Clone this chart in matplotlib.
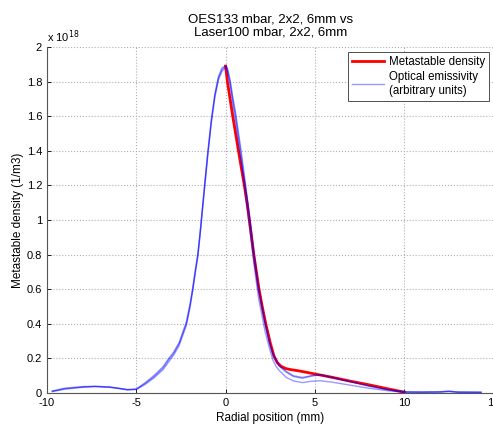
import numpy as np
import matplotlib
matplotlib.use("Agg")
import matplotlib.pyplot as plt
from matplotlib.ticker import FuncFormatter

plt.rcParams['font.family'] = ['Liberation Sans', 'DejaVu Sans']
plt.rcParams['axes.unicode_minus'] = False

title = "OES133 mbar, 2x2, 6mm vs\nLaser100 mbar, 2x2, 6mm"
xlabel = "Radial position (mm)"
ylabel = "Metastable density (1/m3)"
legend_labels = ["Metastable density", "Optical emissivity\n(arbitrary units)"]
x_ticks = [-10, -5, 0, 5, 10, 15]
y_ticks = [0, 0.2, 0.4, 0.6, 0.8, 1.0, 1.2, 1.4, 1.6, 1.8, 2.0]

# Metastable density (units of 1e18 /m3)
red_x = [0, 0.1, 0.25, 0.4, 0.56, 0.72, 0.9, 1.05, 1.2, 1.33, 1.58, 1.87, 2.05,
         2.25, 2.5, 2.72, 2.9, 3.1, 3.35, 3.6, 4.1, 5.0, 6.0, 7.0, 8.0, 9.0, 10.0]
red_y = [1.89, 1.80, 1.70, 1.60, 1.50, 1.40, 1.29, 1.20, 1.10, 1.00, 0.80, 0.60,
         0.50, 0.40, 0.29, 0.21, 0.175, 0.155, 0.142, 0.136, 0.128, 0.11, 0.09,
         0.068, 0.048, 0.026, 0.005]

# Optical emissivity profiles (arbitrary units, scaled)
blue_x = [-9.7, -9.0, -8.0, -7.3, -6.5, -6.0, -5.5, -5.0, -4.5, -4.0, -3.5, -3.2,
          -2.9, -2.6, -2.2, -2.0, -1.84, -1.7, -1.55, -1.41, -1.3, -1.17, -1.0,
          -0.8, -0.6, -0.4, -0.2, 0.0, 0.1, 0.25, 0.4, 0.56, 0.84, 1.1, 1.35,
          1.58, 1.84, 2.2, 2.45, 2.65, 2.85, 3.0, 3.4, 3.8, 4.3, 4.8, 5.3, 6.0,
          7.0, 8.0, 9.0, 10.0, 11.0, 12.0, 12.5, 13.0, 14.3]
blue_a = [0.010, 0.025, 0.035, 0.038, 0.034, 0.027, 0.019, 0.022, 0.055, 0.095,
          0.145, 0.190, 0.230, 0.285, 0.40, 0.50, 0.60, 0.70, 0.80, 0.94, 1.06,
          1.20, 1.38, 1.57, 1.72, 1.82, 1.87, 1.89, 1.87, 1.80, 1.70, 1.60,
          1.40, 1.20, 1.00, 0.80, 0.60, 0.40, 0.29, 0.22, 0.18, 0.155, 0.120,
          0.095, 0.085, 0.098, 0.104, 0.088, 0.065, 0.040, 0.020, 0.006, 0.005,
          0.006, 0.010, 0.005, 0.004]
blue_b = [0.008, 0.022, 0.033, 0.037, 0.033, 0.026, 0.018, 0.020, 0.050, 0.088,
          0.135, 0.178, 0.220, 0.275, 0.39, 0.49, 0.59, 0.69, 0.79, 0.93, 1.05,
          1.19, 1.37, 1.56, 1.71, 1.81, 1.86, 1.88, 1.86, 1.78, 1.67, 1.57,
          1.36, 1.15, 0.95, 0.75, 0.55, 0.36, 0.26, 0.19, 0.15, 0.130, 0.090,
          0.070, 0.060, 0.068, 0.071, 0.062, 0.045, 0.028, 0.014, 0.004, 0.004,
          0.005, 0.008, 0.004, 0.003]
blue_c = [0.012, 0.028, 0.037, 0.039, 0.035, 0.028, 0.020, 0.023, 0.060, 0.102,
          0.152, 0.198, 0.238, 0.292, 0.41, 0.51, 0.61, 0.71, 0.81, 0.95, 1.07,
          1.21, 1.39, 1.58, 1.73, 1.83, 1.88, 1.89, 1.88, 1.81, 1.71, 1.62,
          1.42, 1.22, 1.02, 0.82, 0.62, 0.42, 0.30, 0.23, 0.19, 0.160, 0.125,
          0.100, 0.090, 0.100, 0.106, 0.090, 0.066, 0.042, 0.021, 0.007, 0.006,
          0.007, 0.011, 0.006, 0.005]

W, H = 493, 425
fig = plt.figure(figsize=(W / 100, H / 100), dpi=100)
ax = fig.add_axes([47 / W, 32 / H, 446.5 / W, 346 / H])

ax.plot(red_x, red_y, color='red', lw=2.0, label=legend_labels[0], zorder=3)
first = True
for ys in (blue_a, blue_b, blue_c):
    ax.plot(blue_x, ys, color='blue', alpha=0.4, lw=1.0,
            label=legend_labels[1] if first else None, zorder=4)
    first = False

ax.set_xlim(-10, 15)
ax.set_ylim(0, 2)
ax.set_xticks(x_ticks)
ax.set_yticks(y_ticks)
ax.yaxis.set_major_formatter(FuncFormatter(lambda v, p: f"{v:g}"))
ax.tick_params(direction='in', length=3, labelsize=8, colors='black', width=0.6)
ax.grid(True, linestyle=':', color='#b0b0b0', lw=0.8)
for s in ('top', 'right'):
    ax.spines[s].set_visible(False)
for s in ('left', 'bottom'):
    ax.spines[s].set_color('#555555')
    ax.spines[s].set_linewidth(0.8)

ax.set_xlabel(xlabel, fontsize=8.5, labelpad=3)
ax.set_ylabel(ylabel, fontsize=8.5, labelpad=2)
ax.set_title(title, fontsize=9.5, pad=8)
ax.text(0.0, 1.005, r"x 10$^{18}$", transform=ax.transAxes, fontsize=8,
        ha='left', va='bottom')

leg = ax.legend(loc='upper right', bbox_to_anchor=(489 / W, 1 - 52 / H),
                bbox_transform=fig.transFigure, borderaxespad=0, fontsize=8.3,
                fancybox=False, framealpha=1, edgecolor='#333333',
                handlelength=2.8, handletextpad=0.4, borderpad=0.35,
                labelspacing=0.25)
leg.get_frame().set_linewidth(0.6)

fig.savefig("out.png", dpi=100)
